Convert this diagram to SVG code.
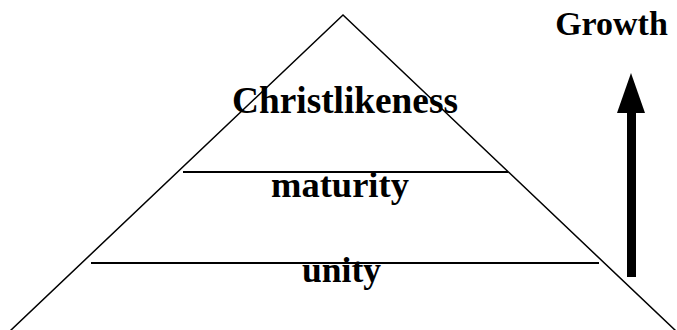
<svg xmlns="http://www.w3.org/2000/svg" width="677" height="330" viewBox="0 0 677 330">
<style>
.t{font-family:"Liberation Serif","Times New Roman",serif;font-weight:bold;fill:#000;text-anchor:middle}
.ln{stroke:#000;fill:none}
</style>
<rect width="677" height="330" fill="#fff"/>
<g id="pyramid">
<polyline class="ln" stroke-width="1.5" points="10,331 343,15 676,331"/>
</g>
<g id="connectors">
<line class="ln" stroke-width="2" x1="183" y1="172" x2="508" y2="172"/>
<line class="ln" stroke-width="2" x1="91" y1="263" x2="599" y2="263"/>
</g>
<g id="christlikeness"><text class="t" x="345" y="113" font-size="37.3">Christlikeness</text></g>
<g id="maturity"><text class="t" x="340" y="197" font-size="36.5">maturity</text></g>
<g id="unity"><text class="t" x="341.5" y="282" font-size="35.5">unity</text></g>
<g id="growth"><text class="t" x="611.5" y="35" font-size="34">Growth</text></g>
<g id="arrow">
<rect x="627" y="112" width="9" height="165" fill="#000"/>
<polygon points="631,73 645,113 617,113" fill="#000"/>
</g>
</svg>
